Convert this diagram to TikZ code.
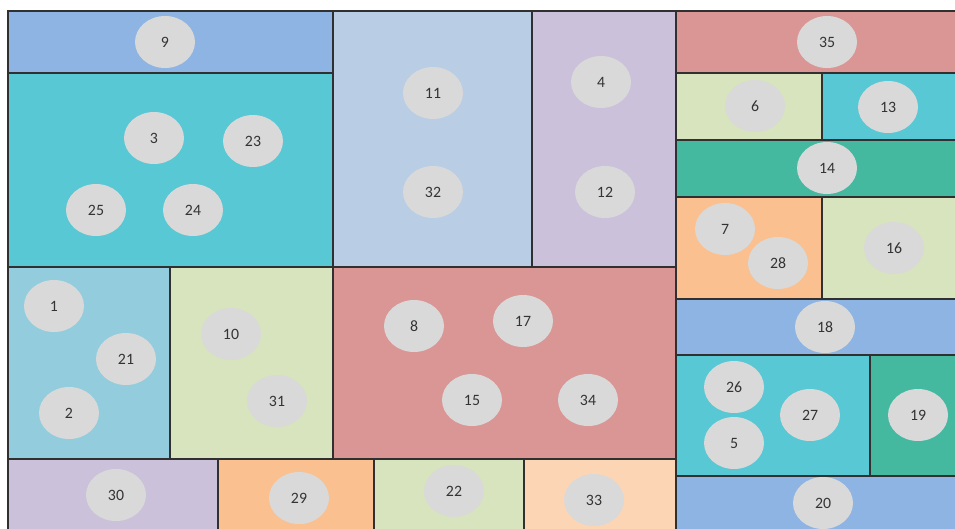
\documentclass[tikz,border=0pt]{standalone}
\usepackage{fontspec}
\setmainfont{Carlito}
\usepackage{xcolor}
\usepackage{tikz}
\usetikzlibrary{shapes.geometric}

\definecolor{cblue}{HTML}{8EB4E3}
\definecolor{cpale}{HTML}{B9CDE5}
\definecolor{ccyan}{HTML}{58C8D4}
\definecolor{csky}{HTML}{93CDDD}
\definecolor{clilac}{HTML}{CCC1DA}
\definecolor{crose}{HTML}{D99694}
\definecolor{clime}{HTML}{D7E4BD}
\definecolor{cteal}{HTML}{44B9A0}
\definecolor{corange}{HTML}{FAC090}
\definecolor{cpeach}{HTML}{FCD5B5}
\definecolor{cblob}{HTML}{D9D9D9}
\definecolor{cline}{HTML}{303030}

\tikzset{
  cell/.style={draw=cline, line width=0.8pt},
  blob/.style={ellipse, fill=cblob, minimum width=1.2cm, minimum height=1.04cm,
    inner sep=0pt, text=black!80, font=\fontsize{9}{10}\selectfont}
}

\begin{document}
\begin{tikzpicture}[x=0.02cm, y=-0.02cm]
\clip (0,0) rectangle (955,528);
% treemap cells
\foreach \xa/\ya/\xb/\yb/\c in {
    8/11/333/73/cblue, 8/73/333/267/ccyan,
    333/11/532/267/cpale, 532/11/676/267/clilac,
    676/11/962/73/crose, 676/73/822/140/clime, 822/73/962/140/ccyan,
    676/140/962/197/cteal, 676/197/822/299/corange, 822/197/962/299/clime,
    676/299/962/355/cblue, 676/355/870/476/ccyan, 870/355/962/476/cteal,
    676/476/962/535/cblue,
    8/267/170/459/csky, 170/267/333/459/clime, 333/267/676/459/crose,
    8/459/218/535/clilac, 218/459/374/535/corange,
    374/459/524/535/clime, 524/459/676/535/cpeach}
    \filldraw[cell, fill=\c] (\xa,\ya) rectangle (\xb,\yb);
% items
\foreach \n/\x/\y in {
    9/165/42, 3/154/138, 23/253/141, 25/96/210, 24/193/210,
    11/433/93, 32/433/192, 4/601/82, 12/605/192,
    35/827/42, 6/755/106, 13/888/107, 14/827/168,
    7/725/229, 28/778/263, 16/894/248,
    18/825/327, 26/734/387, 27/810/415, 5/734/443, 19/918/415, 20/823/503,
    1/54/306, 21/126/359, 2/69/413, 10/231/334, 31/277/401,
    8/414/326, 17/523/321, 15/472/400, 34/588/400,
    30/116/495, 29/299/498, 22/454/491, 33/594/500}
    \node[blob] (n\n) at (\x,\y) {\n};
\end{tikzpicture}
\end{document}
